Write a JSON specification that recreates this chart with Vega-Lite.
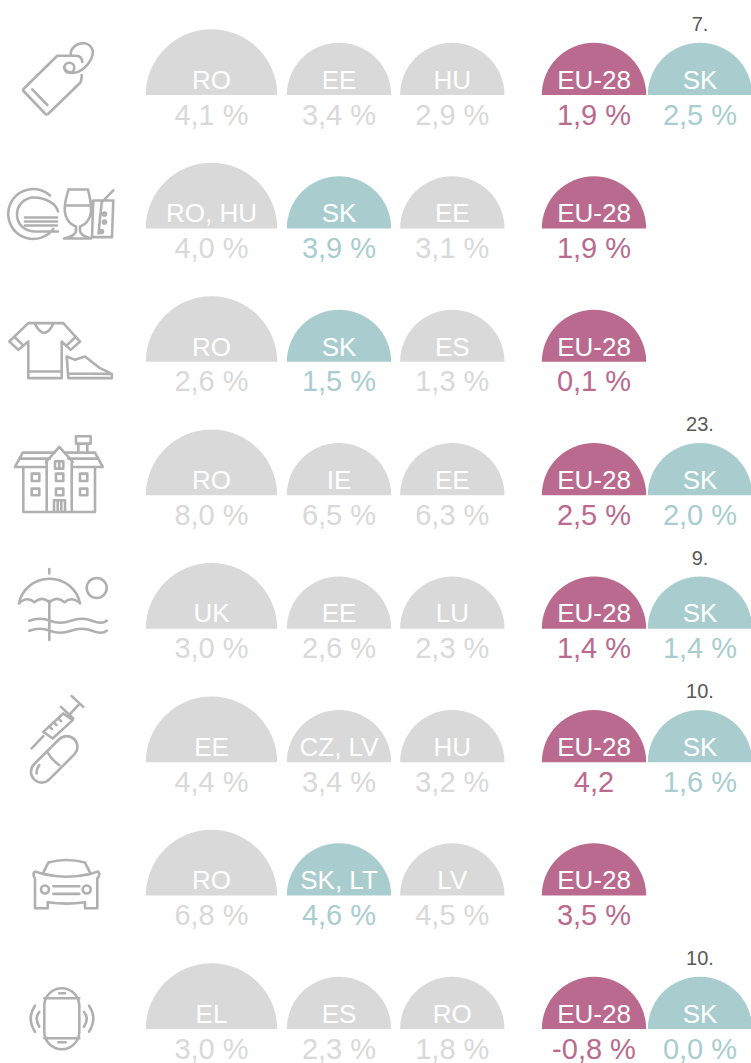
{
"$schema":"https://vega.github.io/schema/vega-lite/v6.json",
"width":751,"height":1063,"padding":0,"autosize":{"type":"none"},
"background":"white",
"view":{"stroke":null},
"config":{"text":{"font":"Liberation Sans"}},
"datasets":{
"results":[
{"category":"Other goods","col":1,"region":"RO","value":"4,1 %","group":"other"},
{"category":"Other goods","col":2,"region":"EE","value":"3,4 %","group":"other"},
{"category":"Other goods","col":3,"region":"HU","value":"2,9 %","group":"other"},
{"category":"Other goods","col":4,"region":"EU-28","value":"1,9 %","group":"EU"},
{"category":"Other goods","col":5,"region":"SK","value":"2,5 %","group":"SK","rank":"7."},
{"category":"Restaurants","col":1,"region":"RO, HU","value":"4,0 %","group":"other"},
{"category":"Restaurants","col":2,"region":"SK","value":"3,9 %","group":"SK"},
{"category":"Restaurants","col":3,"region":"EE","value":"3,1 %","group":"other"},
{"category":"Restaurants","col":4,"region":"EU-28","value":"1,9 %","group":"EU"},
{"category":"Clothing","col":1,"region":"RO","value":"2,6 %","group":"other"},
{"category":"Clothing","col":2,"region":"SK","value":"1,5 %","group":"SK"},
{"category":"Clothing","col":3,"region":"ES","value":"1,3 %","group":"other"},
{"category":"Clothing","col":4,"region":"EU-28","value":"0,1 %","group":"EU"},
{"category":"Housing","col":1,"region":"RO","value":"8,0 %","group":"other"},
{"category":"Housing","col":2,"region":"IE","value":"6,5 %","group":"other"},
{"category":"Housing","col":3,"region":"EE","value":"6,3 %","group":"other"},
{"category":"Housing","col":4,"region":"EU-28","value":"2,5 %","group":"EU"},
{"category":"Housing","col":5,"region":"SK","value":"2,0 %","group":"SK","rank":"23."},
{"category":"Recreation","col":1,"region":"UK","value":"3,0 %","group":"other"},
{"category":"Recreation","col":2,"region":"EE","value":"2,6 %","group":"other"},
{"category":"Recreation","col":3,"region":"LU","value":"2,3 %","group":"other"},
{"category":"Recreation","col":4,"region":"EU-28","value":"1,4 %","group":"EU"},
{"category":"Recreation","col":5,"region":"SK","value":"1,4 %","group":"SK","rank":"9."},
{"category":"Health","col":1,"region":"EE","value":"4,4 %","group":"other"},
{"category":"Health","col":2,"region":"CZ, LV","value":"3,4 %","group":"other"},
{"category":"Health","col":3,"region":"HU","value":"3,2 %","group":"other"},
{"category":"Health","col":4,"region":"EU-28","value":"4,2","group":"EU"},
{"category":"Health","col":5,"region":"SK","value":"1,6 %","group":"SK","rank":"10."},
{"category":"Transport","col":1,"region":"RO","value":"6,8 %","group":"other"},
{"category":"Transport","col":2,"region":"SK, LT","value":"4,6 %","group":"SK"},
{"category":"Transport","col":3,"region":"LV","value":"4,5 %","group":"other"},
{"category":"Transport","col":4,"region":"EU-28","value":"3,5 %","group":"EU"},
{"category":"Communications","col":1,"region":"EL","value":"3,0 %","group":"other"},
{"category":"Communications","col":2,"region":"ES","value":"2,3 %","group":"other"},
{"category":"Communications","col":3,"region":"RO","value":"1,8 %","group":"other"},
{"category":"Communications","col":4,"region":"EU-28","value":"-0,8 %","group":"EU"},
{"category":"Communications","col":5,"region":"SK","value":"0,0 %","group":"SK","rank":"10."}
],
"icons":[
{"category":"Other goods","col":0},
{"category":"Restaurants","col":0},
{"category":"Clothing","col":0},
{"category":"Housing","col":0},
{"category":"Recreation","col":0},
{"category":"Health","col":0},
{"category":"Transport","col":0},
{"category":"Communications","col":0}
]
},
"encoding":{
"x":{"field":"col","type":"quantitative","stack":null,"axis":null,"scale":{"domain":[0,1,2,3,4,5],"range":[65,211.5,339,452.3,594,700],"nice":false,"zero":false}},
"y":{"field":"category","type":"nominal","axis":null,"scale":{"type":"point","padding":0,"range":[95,1029],"domain":["Other goods","Restaurants","Clothing","Housing","Recreation","Health","Transport","Communications"]}}
},
"layer":[
{"data":{"name":"results"},
 "mark":{"type":"arc","theta":-1.5707963,"theta2":1.5707963,"opacity":1},
 "encoding":{
  "radius":{"field":"col","type":"quantitative","stack":null,"scale":{"type":"linear","domain":[0,1,2,5],"range":[0,65.7,52.2,52.2]},"legend":null},
  "fill":{"field":"group","type":"nominal","legend":null,"scale":{"domain":["other","EU","SK"],"range":["#d9d9d9","#b96a8e","#a9cdcf"]}}
 }},
{"data":{"name":"results"},
 "mark":{"type":"text","font":"Liberation Sans","fontSize":26,"dy":-6.3,"baseline":"alphabetic","align":"center","fill":"white"},
 "encoding":{"text":{"field":"region"}}},
{"data":{"name":"results"},
 "mark":{"type":"text","font":"Liberation Sans","fontSize":29,"dy":29.6,"baseline":"alphabetic","align":"center"},
 "encoding":{"text":{"field":"value"},
  "fill":{"field":"group","type":"nominal","legend":null,"scale":{"domain":["other","EU","SK"],"range":["#d9d9d9","#b96a8e","#a9cdcf"]}}}},
{"data":{"name":"results"},
 "transform":[{"filter":"datum.rank != null"}],
 "mark":{"type":"text","font":"Liberation Sans","fontSize":20,"dy":-64,"baseline":"alphabetic","align":"center","fill":"#595959"},
 "encoding":{"text":{"field":"rank"}}},
{"data":{"name":"icons"},
 "mark":{"type":"point","filled":false,"size":4,"stroke":"#b0b0b0","strokeWidth":2.6,"opacity":1,"strokeCap":"round","strokeJoin":"round"},
 "encoding":{"shape":{"field":"category","type":"nominal","legend":null,"scale":{
  "domain":["Other goods","Restaurants","Clothing","Housing","Recreation","Health","Transport","Communications"],
  "range":[
"M11,-39.3L-7.7,-39.3L-41.5,-6Q-42.5,-5 -41.5,-4L-19.5,19Q-18.3,20 -17,19L15,-12Q16.7,-14 16.7,-20M11,-39.3Q17,-39 17.3,-33M-32.7,-5.7L-17.7,10M9.3,-27.3A5,5 0 1 0 -0.7,-27.3A5,5 0 1 0 9.3,-27.3M5.7,-40C5,-47 12,-52 18.3,-51.7C25,-51.5 29,-46 27.5,-40C25,-30 15,-22 8,-22.2C3,-22.5 0,-24 -1,-28",
"M-15,-33A25,25 0 1 0 -11.7,0.5M-7,-17C-9,-25 -20,-31 -31,-31C-41,-31 -48,-23 -48,-14C-48,-4 -40,3 -31,3L-7,3M-40,-11L-26,-11L-8,-11M-40,-7L-8,-7M-40,-3L-8,-3M3.5,-39L23,-39C25,-30 28,-20 25,-12C23,-6 18,-3 15,-2L15,3C16,7 22,9 26,10L-1,10C4,9 10,7 11,3L11,-2C8,-3 3,-6 1,-12C-2,-20 1,-30 3.5,-39M1,-23L24,-23M28.3,-28L48.3,-28L47,8.7L27,8.7M28.3,-28L27,8.7M36.7,-26L48.3,-38M36.7,-26L33.5,5M41,-14.5A1.5,1.5 0 1 0 38,-14.5A1.5,1.5 0 1 0 41,-14.5M41,-6.5A1.5,1.5 0 1 0 38,-6.5A1.5,1.5 0 1 0 41,-6.5M38,3A1.5,1.5 0 1 0 35,3A1.5,1.5 0 1 0 38,3",
"M-36.7,-38.7L-1.7,-38.7L15,-20.3L5.7,-12L-3.3,-20.3L-3.3,16.3L-36.7,16.3L-36.7,-20.3L-46.7,-12L-55.7,-20.3Z M-30,-38Q-20.7,-20 -11.7,-38M-36.7,9.7L-3.3,9.7M-51,-25.3L-42.3,-17M11,-25.3L2.3,-17M1.7,-5.3L3.3,16.3L46.7,16.3Q48,12 44,10.5L35,6.3L20,-5.3L10,-2ZM3.3,11.7L46.7,12",
"M-50,-28.3L-42.3,-42.7L-10,-42.7M0,-42.7L30,-42.7L37.7,-28.3L6.7,-28.3M-50,-28.3L-20,-28.3M-45,-36.7L-15,-36.7M3.3,-36.7L33.3,-36.7M-19,-33.3L-5.7,-48.3L7.7,-33.3M-18.3,-33L-18.3,16.7M6.7,-33L6.7,16.7M-41.7,-28.3L-41.7,16.7L30,16.7L30,-28.3M11,-59L25.7,-59L25.7,-51.7L11,-51.7ZM13.3,-51.7L13.3,-42.7M22.3,-51.7L22.3,-42.7M-33.3,-21.7H-25.7V-14.3H-33.3ZM-33.3,-6.7H-25.7V0H-33.3ZM-9,-21.7H-1.7V-14.3H-9ZM-9,-6.7H-1.7V0H-9ZM15,-21.7H22.3V-14.3H15ZM15,-6.7H22.3V0H15ZM-10,-34H-1.7V-26.7H-10ZM-5.7,-34V-26.7M-11,16.7V5H0V16.7M-7.3,5V16.7M-3.7,5V16.7",
"M-46,-25.3A31,30 0 0 1 15,-25.3M-46,-25.3Q-38,-33 -30.7,-26.5Q-23,-33 -15.7,-26.5Q-8,-33 -0.5,-26.5Q7,-33 15,-25.3M-15.7,-55.3L-15.7,-59.7M-15.7,-28L-15.7,11.3M41.7,-40.7A10,10 0 1 0 21.7,-40.7A10,10 0 1 0 41.7,-40.7M-35.7,-8Q-25,-12 -15,-8T6,-8T27,-8T41.7,-8M-35.7,2Q-25,-2 -15,2T6,2T27,2T41.7,2",
"M-33.3,-13.7L-21.7,-26M-21.7,-30.3L-1.7,-48.7L7.7,-42L-12.3,-23.7ZM3.3,-46.3L13.3,-57M6.7,-66L18.3,-55.3M-4,-55.3L8.3,-43.7M-16,-36L-13,-33M-11.5,-40L-8.5,-37M-7,-44L-4,-41M-5.9,-22.9A10.7,10.7 0 0 1 9.3,-7.7L-15.7,17.3A10.7,10.7 0 0 1 -30.9,2.1ZM-16.7,-8.7Q-13,-2 -5.7,3M-28.3,11.3Q-29,7 -25.7,3",
"M-22.3,-21.7L-16.7,-33Q1.7,-38 20,-33L25.7,-21.7Q1.7,-16 -22.3,-21.7M-22.3,-21.7L-30,-24Q-33,-22 -30,-17L-30,12.7L-17.3,12.7L-17.3,6.7Q1.7,9.5 20,6.7L20,12.7L32.3,12.7L32.3,-17Q36,-22 33,-24L25.7,-21.7M-16,-6A4,4 0 1 0 -24,-6A4,4 0 1 0 -16,-6M25.7,-6A4,4 0 1 0 17.7,-6A4,4 0 1 0 25.7,-6M-11.7,-9.3L14.3,-9.3M-11.7,-1.7L14.3,-1.7",
"M-3.2,-40.7A17.5,17.5 0 0 1 14.3,-23.2L14.3,2.8A17.5,17.5 0 0 1 -3.2,20.3A17.5,17.5 0 0 1 -20.7,2.8L-20.7,-23.2A17.5,17.5 0 0 1 -3.2,-40.7ZM-20.7,-30.7L14.3,-30.7M-20.7,9.3L14.3,9.3M-5.7,-35.7L0,-35.7M-6.7,13.3L0.7,13.3M-30,-23.3Q-38.6,-10.7 -30,2.7M-25.7,-17Q-30.9,-10.7 -25.7,-2.3M24,-23.3Q32.6,-10.7 24,2.7M19,-17Q24.4,-10.7 19,-2.3"
]}}}}
]
}
